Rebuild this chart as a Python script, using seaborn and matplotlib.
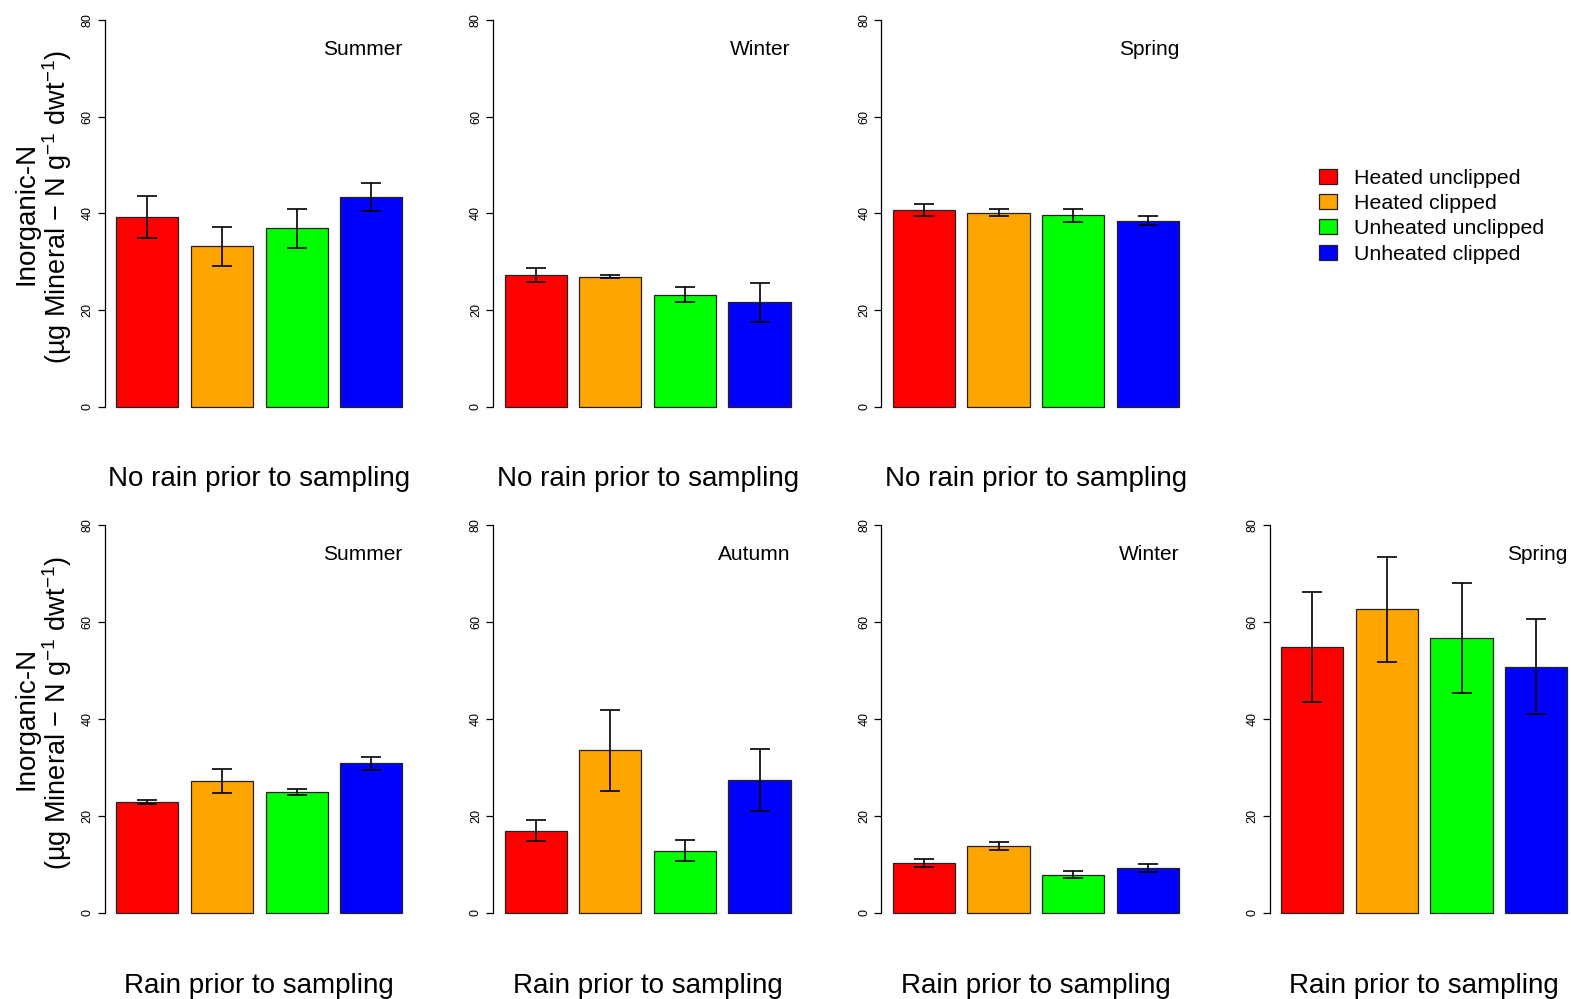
import matplotlib
matplotlib.use('Agg')
import matplotlib.pyplot as plt
from matplotlib.patches import Patch
import seaborn as sns
import pandas as pd

treatments = ['Heated unclipped', 'Heated clipped', 'Unheated unclipped', 'Unheated clipped']
colors = ['#FF0000', '#FFA500', '#00FF00', '#0000FF']

# no rain prior to sampling
summer_dry_mean = [39.2, 33.2, 36.9, 43.3]
summer_dry_se = [4.3, 4.0, 4.1, 2.9]
winter_dry_mean = [27.2, 26.9, 23.2, 21.6]
winter_dry_se = [1.5, 0.3, 1.5, 4.0]
spring_dry_mean = [40.7, 40.1, 39.6, 38.5]
spring_dry_se = [1.25, 0.75, 1.4, 1.0]

# rain prior to sampling
summer_wet_mean = [22.9, 27.2, 24.9, 30.8]
summer_wet_se = [0.45, 2.4, 0.55, 1.3]
autumn_wet_mean = [16.9, 33.5, 12.8, 27.3]
autumn_wet_se = [2.2, 8.4, 2.2, 6.4]
winter_wet_mean = [10.3, 13.8, 7.85, 9.2]
winter_wet_se = [0.85, 0.85, 0.7, 0.85]
spring_wet_mean = [54.8, 62.6, 56.7, 50.8]
spring_wet_se = [11.3, 10.8, 11.4, 9.9]

panels = [
    (0, 0, 'Summer', 'No rain prior to sampling', summer_dry_mean, summer_dry_se),
    (0, 1, 'Winter', 'No rain prior to sampling', winter_dry_mean, winter_dry_se),
    (0, 2, 'Spring', 'No rain prior to sampling', spring_dry_mean, spring_dry_se),
    (1, 0, 'Summer', 'Rain prior to sampling', summer_wet_mean, summer_wet_se),
    (1, 1, 'Autumn', 'Rain prior to sampling', autumn_wet_mean, autumn_wet_se),
    (1, 2, 'Winter', 'Rain prior to sampling', winter_wet_mean, winter_wet_se),
    (1, 3, 'Spring', 'Rain prior to sampling', spring_wet_mean, spring_wet_se),
]

sns.set_style('white')
plt.rcParams['font.family'] = ['Liberation Sans', 'DejaVu Sans']
plt.rcParams['text.color'] = 'black'
plt.rcParams['mathtext.fontset'] = 'custom'
plt.rcParams['mathtext.rm'] = 'Liberation Sans'
plt.rcParams['mathtext.it'] = 'Liberation Sans'
plt.rcParams['mathtext.default'] = 'regular'

W, H = 1571, 999
fig = plt.figure(figsize=(W / 100, H / 100), dpi=100)
palette = dict(zip(treatments, colors))

# panel placement in pixels (top edge, height) per row
row_top = [4.6, 509.5]
row_h = [417.5, 418.7]
ax_w = 309

for row, col, season, rain, means, se in panels:
    left = 104.8 + 388.3 * col
    ax_h = row_h[row]
    ax = fig.add_axes([left / W, 1 - (row_top[row] + ax_h) / H, ax_w / W, ax_h / H])
    df = pd.DataFrame({'treatment': treatments, 'mean': means, 'se': se})
    sns.barplot(data=df, x='treatment', y='mean', hue='treatment', palette=palette,
                saturation=1, width=0.833, edgecolor='#222222', linewidth=0.9,
                legend=False, ax=ax)
    ax.errorbar(range(len(treatments)), df['mean'], yerr=df['se'], fmt='none',
                ecolor='black', elinewidth=1.2, capsize=7.5, capthick=1.2)
    ax.set_xlim(-0.57, 3.57)
    ax.set_ylim(-3.2, 83.2)
    ax.set_xticks([])
    ax.set_yticks([0, 20, 40, 60, 80])
    ax.set_xlabel('')
    ax.set_ylabel('')
    for s in ['top', 'right', 'bottom']:
        ax.spines[s].set_visible(False)
    ax.spines['left'].set_bounds(0, 80)
    ax.spines['left'].set_color('black')
    ax.spines['left'].set_linewidth(0.9)
    ax.tick_params(axis='y', left=True, length=5, width=0.9, direction='out',
                   labelsize=9, labelrotation=90, pad=3, colors='black')
    for lab in ax.get_yticklabels():
        lab.set_va('center')
    ax.text(3.4167, 74.0, season, ha='right', va='center', fontsize=15)
    ax.text(0.5, -0.137, rain, transform=ax.transAxes, ha='center', va='center', fontsize=20)

    if col == 0:
        yc = 1 - (row_top[row] + 43.2 * ax_h / 86.4) / H
        fig.text(27 / W, yc, 'Inorganic-N', rotation=90, ha='center', va='center', fontsize=20)
        fig.text(57 / W, yc + 6 / H, '(µg Mineral − N g$^{-1}$ dwt$^{-1}$)', rotation=90,
                 ha='center', va='center', fontsize=19.5)

handles = [Patch(facecolor=c, edgecolor='#222222', linewidth=0.9) for c in colors]
fig.legend(handles, treatments, loc='upper left', bbox_to_anchor=(1310 / W, 1 - 160 / H),
           frameon=False, fontsize=15.4, handlelength=0.85, handleheight=0.7,
           handletextpad=0.8, labelspacing=0.3, borderaxespad=0)

fig.savefig('out.png', dpi=100)
